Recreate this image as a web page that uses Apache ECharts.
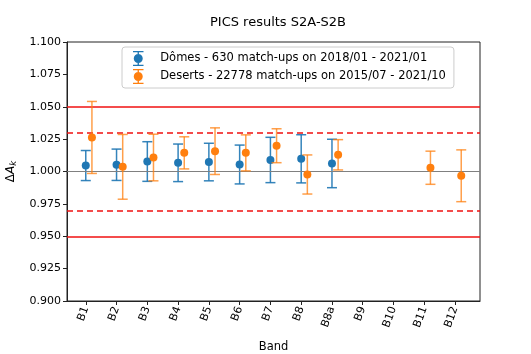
<!DOCTYPE html>
<html>
<head>
<meta charset="utf-8">
<script src="https://cdn.jsdelivr.net/npm/echarts@6/dist/echarts.min.js"></script>
<style>
  html, body { margin: 0; padding: 0; background: #fff; }
  #chart { width: 531px; height: 354px; }
</style>
</head>
<body>
<div id="chart"></div>
<script>
const bands = ['B1', 'B2', 'B3', 'B4', 'B5', 'B6', 'B7', 'B8', 'B8a', 'B9', 'B10', 'B11', 'B12'];

// Dômes - 630 match-ups
const domesMean = [1.0046, 1.0052, 1.0077, 1.0067, 1.0073, 1.0054, 1.0089, 1.0098, 1.0062, null, null, null, null];
const domesErr  = [0.0116, 0.0121, 0.0153, 0.0145, 0.0145, 0.0150, 0.0175, 0.0186, 0.0187, null, null, null, null];

// Deserts - 22778 match-ups
const desertsMean = [1.0263, 1.0036, 1.0108, 1.0144, 1.0157, 1.0144, 1.0199, 0.9977, 1.0129, null, null, 1.0029, 0.9967];
const desertsErr  = [0.0278, 0.0250, 0.0180, 0.0124, 0.0180, 0.0139, 0.0131, 0.0151, 0.0117, null, null, 0.0128, 0.0200];

const limitSolid = [0.95, 1.05];
const limitDashed = [0.97, 1.03];
const desertsShift = 0.2;

const blue = '#1f77b4';
const orange = '#ff7f0e';
const red = '#f01010';
const font = 'DejaVu Sans';

const pts = (mean, err, shift) => mean
  .map((m, i) => m == null ? null : { pt: [i + shift, m], bar: [i + shift, m - err[i], m + err[i]] })
  .filter(Boolean);

const domes = pts(domesMean, domesErr, 0);
const deserts = pts(desertsMean, desertsErr, desertsShift);

const errorBar = (color, alpha) => (params, api) => {
  const x = api.value(0);
  const lo = api.coord([x, api.value(1)]);
  const hi = api.coord([x, api.value(2)]);
  const cap = 5;
  const style = { stroke: color, lineWidth: 1.5, opacity: alpha };
  return {
    type: 'group',
    children: [
      { type: 'line', shape: { x1: lo[0], y1: lo[1], x2: hi[0], y2: hi[1] }, style },
      { type: 'line', shape: { x1: lo[0] - cap, y1: lo[1], x2: lo[0] + cap, y2: lo[1] }, style },
      { type: 'line', shape: { x1: hi[0] - cap, y1: hi[1], x2: hi[0] + cap, y2: hi[1] }, style }
    ]
  };
};

const legendIcon = 'path://M3 0H17V1.8H3ZM9.1 0H10.9V20H9.1ZM3 18.2H17V20H3ZM10 4A6 6 0 1 1 9.99 4Z';

const chart = echarts.init(document.getElementById('chart'));
chart.setOption({
  animation: false,
  textStyle: { fontFamily: font },
  title: {
    text: 'PICS results S2A-S2B',
    left: 273, top: 11, textAlign: 'center',
    textStyle: { fontSize: 13, fontWeight: 'normal', color: '#000', fontFamily: font }
  },
  grid: {
    left: 67, right: 51, top: 42, bottom: 53,
    containLabel: false, outerBoundsMode: 'none',
    show: true, borderColor: '#222', borderWidth: 1, backgroundColor: 'transparent'
  },
  legend: {
    orient: 'vertical',
    left: 122, top: 47,
    padding: [4, 8, 4, 11],
    itemGap: 3,
    itemWidth: 14, itemHeight: 15,
    borderColor: '#ccc', borderWidth: 1, borderRadius: 3,
    textStyle: { fontSize: 11.5, color: '#000', fontFamily: font, padding: [0, 0, 0, 10] },
    data: [
      { name: 'Dômes - 630 match-ups on 2018/01 - 2021/01', icon: legendIcon },
      { name: 'Deserts - 22778 match-ups on 2015/07 - 2021/10', icon: legendIcon }
    ]
  },
  xAxis: {
    type: 'value',
    min: -0.61, max: 12.81,
    name: 'Band', nameLocation: 'middle', nameGap: 40,
    nameTextStyle: { fontSize: 11.5, color: '#000', fontFamily: font },
    splitLine: { show: false },
    axisLine: { onZero: false, lineStyle: { color: '#222' } },
    axisTick: { customValues: bands.map((b, i) => i), length: 4, lineStyle: { color: '#222' } },
    axisLabel: {
      customValues: bands.map((b, i) => i),
      formatter: v => bands[Math.round(v)],
      rotate: 70, fontSize: 11, color: '#000', fontFamily: font, margin: 6
    }
  },
  yAxis: {
    type: 'value',
    min: 0.9, max: 1.1, interval: 0.025,
    name: '{d|Δ}{a|A}{k|k}', nameLocation: 'middle', nameGap: 44,
    nameRotate: 90,
    nameTextStyle: {
      color: '#000', fontFamily: font,
      rich: {
        d: { fontSize: 12, fontFamily: font },
        a: { fontSize: 12, fontStyle: 'italic', fontFamily: font },
        k: { fontSize: 8.5, fontStyle: 'italic', fontFamily: font, verticalAlign: 'bottom', padding: [6, 0, 0, 0] }
      }
    },
    splitLine: { show: false },
    axisLine: { show: true, onZero: false, lineStyle: { color: '#222' } },
    axisTick: { show: true, length: 4, lineStyle: { color: '#222' } },
    axisLabel: { formatter: v => v.toFixed(3), fontSize: 11, color: '#000', fontFamily: font, margin: 6 }
  },
  series: [
    {
      type: 'line', data: [], silent: true, z: 1,
      markLine: {
        silent: true, symbol: 'none', label: { show: false },
        data: [
          { yAxis: 1.0, lineStyle: { color: '#808080', width: 1, type: 'solid' } },
          ...limitSolid.map(v => ({ yAxis: v, lineStyle: { color: red, width: 1.6, type: 'solid' } })),
          ...limitDashed.map(v => ({ yAxis: v, lineStyle: { color: red, width: 1.6, type: [6, 4] } }))
        ]
      }
    },
    {
      type: 'custom', name: 'domesErr', z: 3, silent: true,
      renderItem: errorBar(blue, 0.9),
      encode: { x: 0, y: [1, 2] },
      data: domes.map(d => d.bar)
    },
    {
      type: 'scatter', name: 'Dômes - 630 match-ups on 2018/01 - 2021/01', z: 4,
      symbolSize: 8, itemStyle: { color: blue, opacity: 1 },
      data: domes.map(d => d.pt)
    },
    {
      type: 'custom', name: 'desertsErr', z: 5, silent: true,
      renderItem: errorBar(orange, 0.75),
      encode: { x: 0, y: [1, 2] },
      data: deserts.map(d => d.bar)
    },
    {
      type: 'scatter', name: 'Deserts - 22778 match-ups on 2015/07 - 2021/10', z: 6,
      symbolSize: 8, itemStyle: { color: orange, opacity: 1 },
      data: deserts.map(d => d.pt)
    }
  ]
});
</script>
</body>
</html>
